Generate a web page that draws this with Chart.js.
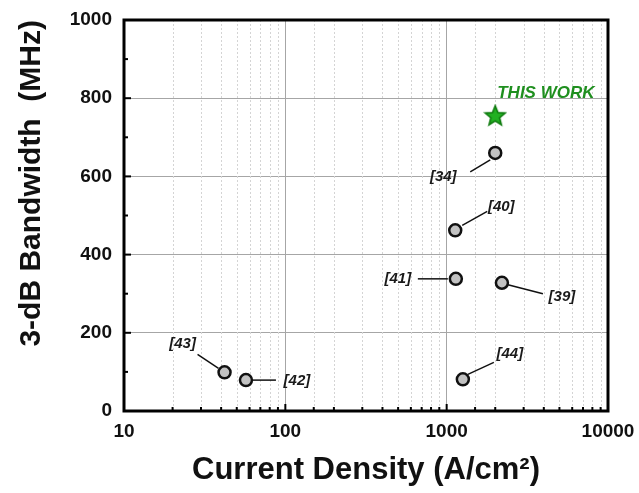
<!DOCTYPE html>
<html>
<head>
<meta charset="utf-8">
<script src="https://cdn.jsdelivr.net/npm/chart.js@4"></script>
<style>
  body { margin: 0; background: #fff; }
  canvas { display: block; }
</style>
</head>
<body>
<canvas id="chart" width="639" height="493"></canvas>
<script>
// reference data
const refLabels = ['[34]', '[40]', '[41]', '[39]', '[43]', '[42]', '[44]'];
const refCurrent = [2000, 1130, 1140, 2200, 42, 57, 1260];
const refBandwidth = [660, 462, 338, 328, 99, 79, 81];

const workLabel = 'THIS WORK';
const workCurrent = [2000];
const workBandwidth = [755];

const xMin = 10, xMax = 10000;
const yMin = 0, yMax = 1000, yStep = 200;

const FONT = '"Liberation Sans", Arial, sans-serif';

// label placement relative to each point: text centre, leader line start/end (px)
const labelOffsets = {
  '[34]': { tx: -52, ty: 24, l: [-5, 7, -25, 19] },
  '[40]': { tx: 46, ty: -23, l: [7, -5, 32, -19] },
  '[41]': { tx: -58, ty: 0, l: [-8, 0, -38, 0] },
  '[39]': { tx: 60, ty: 14, l: [6, 2, 41, 11] },
  '[43]': { tx: -42, ty: -28, l: [-6, -4, -27, -18] },
  '[42]': { tx: 51, ty: 1, l: [7, 0, 30, 0] },
  '[44]': { tx: 47, ty: -25, l: [5, -5, 31, -17] }
};

function isDecade(v) {
  const l = Math.log10(v);
  return Math.abs(l - Math.round(l)) < 1e-9;
}

// five point star for "this work"
function makeStar() {
  const c = document.createElement('canvas');
  c.width = 24; c.height = 24;
  const g = c.getContext('2d');
  g.beginPath();
  for (let i = 0; i < 10; i++) {
    const r = i % 2 === 0 ? 10.5 : 4.6;
    const a = -Math.PI / 2 + i * Math.PI / 5;
    const px = 12 + r * Math.cos(a), py = 12.5 + r * Math.sin(a);
    if (i === 0) g.moveTo(px, py); else g.lineTo(px, py);
  }
  g.closePath();
  g.fillStyle = '#22b022';
  g.fill();
  g.lineWidth = 1.6;
  g.strokeStyle = '#0e7a0e';
  g.stroke();
  return c;
}

const decorPlugin = {
  id: 'decor',
  beforeDatasetsDraw(chart) {
    const { ctx, chartArea: a, scales: { x, y } } = chart;
    ctx.save();
    // minor dotted vertical grid
    ctx.strokeStyle = '#d4d4d4';
    ctx.lineWidth = 1;
    ctx.setLineDash([2, 2]);
    x.ticks.forEach(t => {
      if (isDecade(t.value)) return;
      const px = Math.round(x.getPixelForValue(t.value)) + 0.5;
      ctx.beginPath();
      ctx.moveTo(px, a.top);
      ctx.lineTo(px, a.bottom);
      ctx.stroke();
    });
    ctx.setLineDash([]);
    // inward tick marks
    ctx.strokeStyle = '#000';
    ctx.lineWidth = 2;
    x.ticks.forEach(t => {
      const px = x.getPixelForValue(t.value);
      const len = isDecade(t.value) ? 7 : 4;
      ctx.beginPath();
      ctx.moveTo(px, a.bottom);
      ctx.lineTo(px, a.bottom - len);
      ctx.stroke();
    });
    for (let v = yMin; v <= yMax; v += yStep / 2) {
      const py = y.getPixelForValue(v);
      const len = v % yStep === 0 ? 7 : 4;
      ctx.beginPath();
      ctx.moveTo(a.left, py);
      ctx.lineTo(a.left + len, py);
      ctx.stroke();
    }
    ctx.restore();
  },
  afterDatasetsDraw(chart) {
    const { ctx, chartArea: a } = chart;
    ctx.save();
    // leader lines and reference labels
    const meta = chart.getDatasetMeta(0);
    ctx.font = 'italic bold 15px ' + FONT;
    ctx.textAlign = 'center';
    ctx.textBaseline = 'middle';
    meta.data.forEach((pt, i) => {
      const o = labelOffsets[refLabels[i]];
      if (!o) return;
      ctx.strokeStyle = '#111';
      ctx.lineWidth = 1.5;
      ctx.beginPath();
      ctx.moveTo(pt.x + o.l[0], pt.y + o.l[1]);
      ctx.lineTo(pt.x + o.l[2], pt.y + o.l[3]);
      ctx.stroke();
      ctx.fillStyle = '#1a1a1a';
      ctx.fillText(refLabels[i], pt.x + o.tx, pt.y + o.ty);
    });
    // this work label
    const star = chart.getDatasetMeta(1).data[0];
    ctx.font = 'italic bold 17px ' + FONT;
    ctx.fillStyle = '#1f8f1f';
    ctx.textAlign = 'left';
    ctx.fillText(workLabel, star.x + 2, star.y - 22);
    // thick frame
    ctx.strokeStyle = '#000';
    ctx.lineWidth = 3;
    ctx.strokeRect(a.left, a.top, a.right - a.left, a.bottom - a.top);
    ctx.restore();
  }
};

new Chart(document.getElementById('chart'), {
  type: 'scatter',
  data: {
    datasets: [
      {
        label: 'Reference',
        data: refCurrent.map((c, i) => ({ x: c, y: refBandwidth[i] })),
        pointRadius: 6,
        pointBackgroundColor: '#c2c2c2',
        pointBorderColor: '#111',
        pointBorderWidth: 2.5
      },
      {
        label: workLabel,
        data: workCurrent.map((c, i) => ({ x: c, y: workBandwidth[i] })),
        pointStyle: makeStar(),
        pointRadius: 12
      }
    ]
  },
  options: {
    responsive: false,
    animation: false,
    layout: { padding: { top: 20, right: 31, left: 0, bottom: 0 } },
    plugins: {
      legend: { display: false },
      tooltip: { enabled: false }
    },
    scales: {
      x: {
        type: 'logarithmic',
        min: xMin,
        max: xMax,
        afterFit: s => { s.height = 82; s.paddingRight = 0; s.paddingLeft = 0; },
        grid: {
          drawTicks: false,
          color: c => (c.tick && isDecade(c.tick.value)) ? '#a6a6a6' : 'rgba(0,0,0,0)'
        },
        border: { display: false },
        ticks: {
          autoSkip: false,
          maxRotation: 0,
          padding: 9,
          color: '#111',
          font: { family: FONT, size: 19, weight: 'bold' },
          callback: v => isDecade(v) ? String(v) : ''
        },
        title: {
          display: true,
          text: 'Current Density (A/cm²)',
          color: '#111',
          padding: { top: 0, bottom: 4 },
          font: { family: FONT, size: 31, weight: 'bold' }
        }
      },
      y: {
        min: yMin,
        max: yMax,
        afterFit: s => { s.width = 124; s.paddingTop = 0; s.paddingBottom = 0; },
        grid: { drawTicks: false, color: '#a6a6a6' },
        border: { display: false },
        ticks: {
          stepSize: yStep,
          padding: 12,
          color: '#111',
          font: { family: FONT, size: 19, weight: 'bold' },
          callback: v => String(v)
        },
        title: {
          display: true,
          text: '3-dB Bandwidth  (MHz)',
          align: 'end',
          color: '#111',
          padding: { top: 14, bottom: 0 },
          font: { family: FONT, size: 30, weight: 'bold' }
        }
      }
    }
  },
  plugins: [decorPlugin]
});
</script>
</body>
</html>
